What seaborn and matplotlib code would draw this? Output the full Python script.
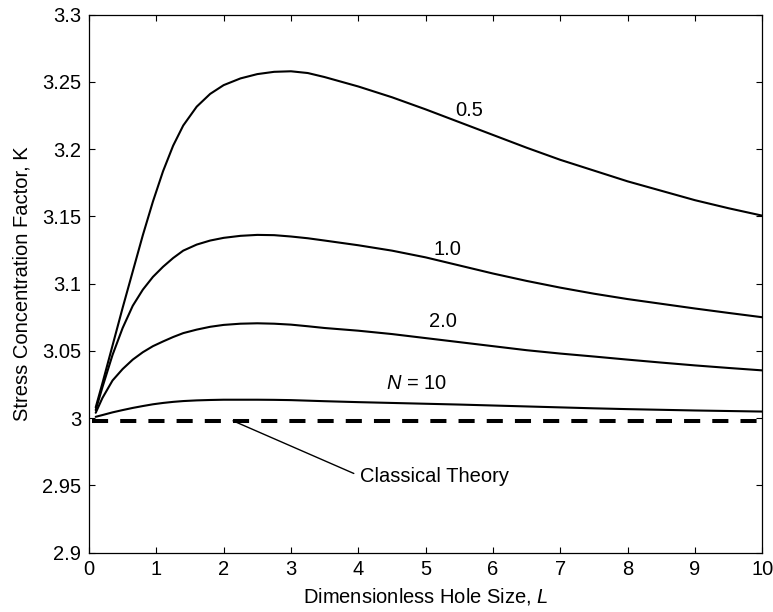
import numpy as np
import pandas as pd
import matplotlib
matplotlib.use("Agg")
import matplotlib.pyplot as plt
from matplotlib.ticker import FuncFormatter
import seaborn as sns

# Values
hole_size = [0.1, 0.2, 0.35, 0.5, 0.65, 0.8, 0.95, 1.1, 1.25, 1.4, 1.6, 1.8, 2.0,
             2.25, 2.5, 2.75, 3.0, 3.25, 3.5, 4.0, 4.5, 5.0, 5.5, 6.0, 6.5, 7.0,
             7.5, 8.0, 8.5, 9.0, 9.5, 10.0]
k_n05 = [3.008, 3.026, 3.054, 3.082, 3.109, 3.136, 3.161, 3.1835, 3.2025, 3.2175, 3.2315, 3.241, 3.2475,
         3.2525, 3.2557, 3.2574, 3.2578, 3.2565, 3.2535, 3.2465, 3.2385, 3.2295, 3.2200, 3.2105, 3.2010, 3.1920,
         3.1840, 3.1760, 3.1690, 3.1620, 3.1560, 3.1505]
k_n1 = [3.006, 3.023, 3.047, 3.067, 3.0835, 3.0955, 3.105, 3.1125, 3.119, 3.1245, 3.129, 3.132, 3.134,
        3.1355, 3.1362, 3.136, 3.135, 3.1337, 3.132, 3.1285, 3.1245, 3.1195, 3.1135, 3.1075, 3.102, 3.097,
        3.0925, 3.0885, 3.085, 3.0815, 3.0782, 3.075]
k_n2 = [3.004, 3.015, 3.028, 3.0365, 3.0435, 3.049, 3.0535, 3.057, 3.0603, 3.0632, 3.0658, 3.0679, 3.0693,
        3.0702, 3.0705, 3.0702, 3.0695, 3.0683, 3.067, 3.065, 3.0625, 3.0595, 3.0565, 3.0535, 3.0505, 3.048,
        3.0458, 3.0435, 3.0413, 3.0392, 3.0373, 3.0355]
k_n10 = [3.001, 3.0023, 3.0043, 3.006, 3.0076, 3.009, 3.0103, 3.0113, 3.0121, 3.0127, 3.0132, 3.0135, 3.0137,
         3.0137, 3.0137, 3.0136, 3.0134, 3.013, 3.0126, 3.0119, 3.0113, 3.0107, 3.0101, 3.0094, 3.0087, 3.008,
         3.0073, 3.0067, 3.0062, 3.0057, 3.0053, 3.0049]
n_labels = ["0.5", "1.0", "2.0", "10"]
classical_L = [0.05, 10.0]
classical_K = [2.998, 2.998]

x_ticks = list(range(0, 11))
y_ticks = [2.9, 2.95, 3.0, 3.05, 3.1, 3.15, 3.2, 3.25, 3.3]

sns.set_style("ticks")
plt.rcParams['font.family'] = ['Liberation Sans', 'DejaVu Sans']
plt.rcParams['text.color'] = 'black'
plt.rcParams['axes.labelcolor'] = 'black'
plt.rcParams['mathtext.fontset'] = 'custom'
plt.rcParams['mathtext.rm'] = 'Liberation Sans'
plt.rcParams['mathtext.it'] = 'Liberation Sans:italic'

frames = []
for lab, ks in zip(n_labels, [k_n05, k_n1, k_n2, k_n10]):
    frames.append(pd.DataFrame({"L": hole_size, "K": ks, "N": lab}))
df = pd.concat(frames, ignore_index=True)
classical = pd.DataFrame({"L": classical_L, "K": classical_K})

fig = plt.figure(figsize=(7.73, 6.12), dpi=100)
ax = fig.add_axes([0.1151, 0.0969, 0.871, 0.8794])

sns.lineplot(data=df, x="L", y="K", hue="N", palette=["black"] * 4,
             linewidth=1.5, legend=False, estimator=None, sort=False, ax=ax)
sns.lineplot(data=classical, x="L", y="K", color="black", linewidth=2.9,
             ax=ax).lines[-1].set_dashes((4.0, 3.0))

ax.set_xlim(0, 10)
ax.set_ylim(2.9, 3.3)
ax.set_xticks(x_ticks)
ax.set_yticks(y_ticks)
ax.yaxis.set_major_formatter(FuncFormatter(lambda v, p: "{:g}".format(round(v, 3))))
ax.tick_params(direction="in", top=True, right=True, length=4.5, width=0.8,
               labelsize=14.5, pad=5.5, colors="black")
for s in ax.spines.values():
    s.set_linewidth(0.9)
    s.set_color("black")

ax.set_xlabel("Dimensionless Hole Size, $L$", fontsize=14.5)
ax.set_ylabel("Stress Concentration Factor, K", fontsize=14.5)
ax.xaxis.set_label_coords(0.5, -0.062)
ax.yaxis.set_label_coords(-0.085, 0.5)

# curve labels
ax.text(5.64, 3.2285, n_labels[0], fontsize=14.5, ha="center", va="center")
ax.text(5.33, 3.1256, n_labels[1], fontsize=14.5, ha="center", va="center")
ax.text(5.26, 3.0718, n_labels[2], fontsize=14.5, ha="center", va="center")
ax.text(4.86, 3.026, "$N$ = " + n_labels[3], fontsize=14.5, ha="center", va="center")

ax.annotate("Classical Theory", xy=(2.14, 2.998), xytext=(4.02, 2.957),
            fontsize=14.5, ha="left", va="center",
            arrowprops=dict(arrowstyle="-", color="black", lw=1.0,
                            shrinkA=2, shrinkB=0, relpos=(0, 0.5)))

fig.savefig("out.png", dpi=100)
